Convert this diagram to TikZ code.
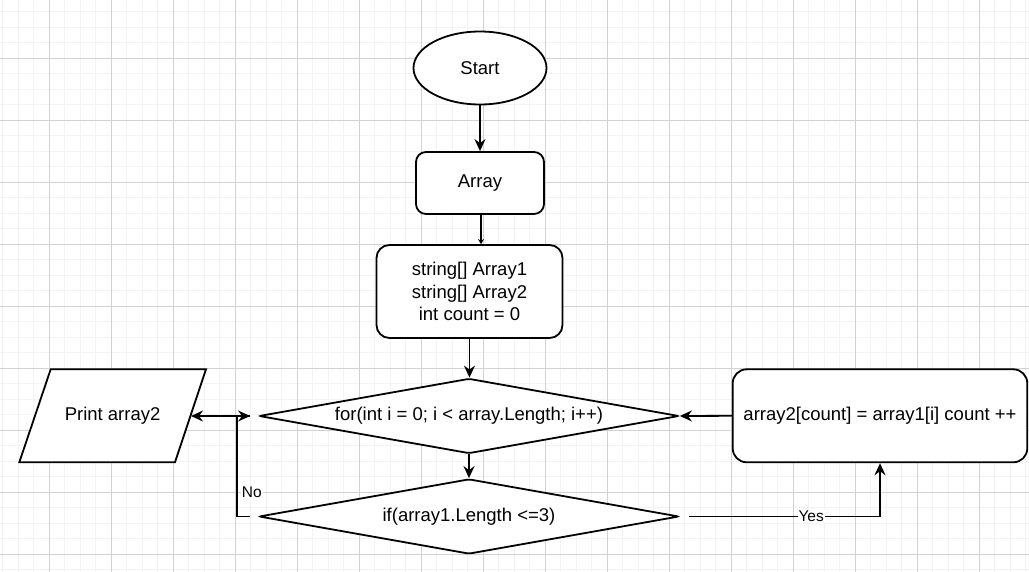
\documentclass[tikz,border=0pt]{standalone}
\usepackage{fontspec}
\setmainfont{Liberation Sans}
\usetikzlibrary{shapes.geometric,arrows.meta}
\definecolor{gminor}{RGB}{243,243,243}
\definecolor{gmajor}{RGB}{210,210,210}
\begin{document}
\begin{tikzpicture}[x=1pt,y=-1pt,
  every node/.style={font=\fontsize{18.5}{22.5}\selectfont},
  shp/.style={draw, line width=1.8pt, fill=white},
  rbox/.style={shp, rectangle, rounded corners=10pt, inner sep=0pt},
  dia/.style={shp, diamond, aspect=5.6, inner sep=0pt, minimum width=420pt, minimum height=75pt, rounded corners=2pt},
  conn/.style={line width=1.8pt, -{Stealth[length=12pt,width=11pt,inset=4pt]}},
  lbl/.style={font=\fontsize{15.5}{18}\selectfont, fill=white, inner sep=1pt}
]
\useasboundingbox (0,0) rectangle (1029,572);
\fill[white] (0,0) rectangle (1029,572);
% grid
\foreach \i in {0,...,66} \draw[gminor, line width=1pt] ({2.8+15.5*\i},0) -- ++(0,572);
\foreach \i in {0,...,36} \draw[gminor, line width=1pt] (0,{11.8+15.5*\i}) -- ++(1029,0);
\foreach \i in {0,...,15} \draw[gmajor, line width=1pt] ({49.3+62*\i},0) -- ++(0,572);
\foreach \i in {0,...,8} \draw[gmajor, line width=1pt] (0,{58.3+62*\i}) -- ++(1029,0);

% nodes
\node[shp, ellipse, minimum width=133pt, minimum height=73pt, inner sep=0pt] (start) at (480,68) {Start};
\node[rbox, minimum width=128pt, minimum height=62pt] (arr) at (480,183) {Array};
\node[rbox, rounded corners=13pt, minimum width=186pt, minimum height=93pt, align=center] (vars) at (469.5,291.5) {string[] Array1\\string[] Array2\\int count = 0};
\node[dia] (for) at (469,416) {for(int i = 0; i < array.Length; i++)};
\node[dia] (if) at (469,516.5) {if(array1.Length <=3)};
\draw[shp] (50.7,369.3) -- (206,369.3) -- (175,462.3) -- (19.3,462.3) -- cycle;
\node (print) at (112.6,416) {Print array2};
\node[rbox, rounded corners=14pt, minimum width=294.6pt, minimum height=93pt] (upd) at (880,415.8) {array2[count] = array1[i] count ++};

\coordinate (pin) at (191,416);
\coordinate (jn) at (237,416);

% connectors
\draw[conn] (start) -- (arr);
\draw[line width=1.8pt, -{Stealth[length=5pt,width=6pt]}] ([xshift=1pt]arr.south) -- ([xshift=1pt]arr.south |- vars.north);
\draw[conn] (vars.south) -- (vars.south |- for.north);
\draw[conn] (for) -- (if);
\draw[conn] (upd.west) -- (for.east);
\draw[conn] ([xshift=9pt]if.east) -| node[lbl, pos=0.32]{Yes} (upd.south);
\draw[conn] ([xshift=-8pt]if.west) -| node[lbl, pos=0.62, anchor=west, xshift=3pt]{No} (jn) -- ([xshift=-8pt]for.west);
\draw[conn] ([xshift=-8pt]for.west) -- (pin);
\end{tikzpicture}
\end{document}
